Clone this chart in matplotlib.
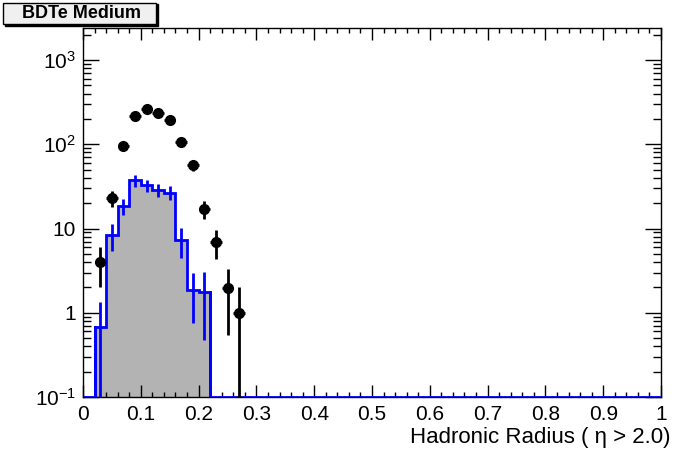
import matplotlib
matplotlib.use("Agg")
import matplotlib.pyplot as plt
import numpy as np
from matplotlib.patches import Rectangle
from matplotlib.ticker import FixedLocator, MultipleLocator, LogLocator, NullFormatter

plt.rcParams['font.family'] = ['Liberation Sans', 'DejaVu Sans']
plt.rcParams['mathtext.fontset'] = 'custom'
plt.rcParams['mathtext.rm'] = 'Liberation Sans'
plt.rcParams['mathtext.it'] = 'Liberation Sans'

# data points (black), bin centres and counts
data_x = [0.03, 0.05, 0.07, 0.09, 0.11, 0.13, 0.15, 0.17, 0.19, 0.21, 0.23, 0.25, 0.27]
data_y = [4.0, 23, 95, 215, 260, 233, 192, 107, 56, 17, 6.9, 1.95, 1.0]
data_err = [2.0, 4.8, 9.7, 14.7, 16.1, 15.3, 13.9, 10.3, 7.5, 4.1, 2.6, 1.4, 1.0]

# simulated histogram (blue outline, grey fill), 0.02 wide bins
mc_edges = [0.02, 0.04, 0.06, 0.08, 0.10, 0.12, 0.14, 0.16, 0.18, 0.20, 0.22]
mc_vals = [0.68, 8.4, 18.6, 37.4, 32.6, 28.4, 26.6, 7.3, 1.85, 1.78]
mc_err = [0.66, 3.0, 4.0, 6.0, 5.5, 5.0, 5.0, 2.8, 1.1, 1.3]

ymin, ymax = 0.1, 2400

fig = plt.figure(figsize=(6.96, 4.72), dpi=100)
ax = fig.add_axes([83/696, 75/472, 578/696, 369/472])
ax.set_yscale('log')
ax.set_xlim(0, 1)
ax.set_ylim(ymin, ymax)

edges = np.array(mc_edges)
vals = np.array(mc_vals)
centres = 0.5 * (edges[:-1] + edges[1:])

# grey fill + blue step outline, empty bins drawn on the bottom edge
ax.stairs(vals, edges, baseline=ymin, fill=True, color='#b3b3b3', zorder=1)
full_edges = np.concatenate([[0.0], edges, [1.0]])
full_vals = np.concatenate([[ymin], vals, [ymin]])
ax.stairs(full_vals, full_edges, baseline=None, color='#0000ff', lw=2, zorder=3)
ax.plot([edges[0], edges[0]], [ymin, vals[0]], color='#0000ff', lw=2, zorder=3)
ax.plot([edges[-1], edges[-1]], [ymin, vals[-1]], color='#0000ff', lw=2, zorder=3)
merr = np.array(mc_err)
mlow = np.minimum(merr, vals - 1e-4)
ax.errorbar(centres, vals, yerr=[mlow, merr], fmt='none', ecolor='#0000ff',
            elinewidth=2, capsize=0, zorder=3)

dy = np.array(data_y)
derr = np.array(data_err)
dlow = np.minimum(derr, dy - 1e-4)
ax.errorbar(data_x, dy, xerr=0.01, yerr=[dlow, derr], fmt='o', color='black',
            ms=7, elinewidth=2, capsize=0, zorder=4)

# ROOT-like axes
ax.xaxis.set_major_locator(MultipleLocator(0.1))
ax.xaxis.set_minor_locator(MultipleLocator(0.02))
ax.set_xticklabels([])
ax.yaxis.set_major_locator(FixedLocator([0.1, 1, 10, 100, 1000]))
ax.yaxis.set_minor_locator(LogLocator(base=10, subs=np.arange(2, 10)))
ax.yaxis.set_minor_formatter(NullFormatter())
ax.set_yticklabels(['$10^{-1}$', '1', '10', '$10^{2}$', '$10^{3}$'])
ax.tick_params(which='both', direction='in', top=True, right=True, width=1, labelsize=15)
ax.tick_params(axis='x', which='major', length=8.6)
ax.tick_params(axis='x', which='minor', length=3.8)
ax.tick_params(axis='y', which='major', length=11.5, pad=5)
ax.tick_params(axis='y', which='minor', length=5.8)

xt = [0.0, 0.1, 0.2, 0.3, 0.4, 0.5, 0.6, 0.7, 0.8, 0.9, 1.0]
xt_labels = ['0', '0.1', '0.2', '0.3', '0.4', '0.5', '0.6', '0.7', '0.8', '0.9', '1']
for x, lab in zip(xt, xt_labels):
    ax.text(x, -0.022, lab, transform=ax.get_xaxis_transform(), ha='center', va='top', fontsize=15)
ax.text(671/696, 1 - 437/472, 'Hadronic Radius ( η > 2.0)', transform=fig.transFigure,
        ha='right', va='center', fontsize=16)

for s in ax.spines.values():
    s.set_linewidth(1)

# title box with shadow
fig.patches.append(Rectangle((5/696, 1 - 26/472), 153/696, 22/472, transform=fig.transFigure,
                             facecolor='black', edgecolor='black', lw=1, zorder=5))
fig.patches.append(Rectangle((3/696, 1 - 24/472), 153/696, 21/472, transform=fig.transFigure,
                             facecolor='#f0f0f0', edgecolor='black', lw=1, zorder=6))
fig.text(81/696, 1 - 13.5/472, 'BDTe Medium', ha='center', va='center', fontsize=13,
         fontweight='bold', zorder=7)

fig.savefig('out.png', dpi=100)
